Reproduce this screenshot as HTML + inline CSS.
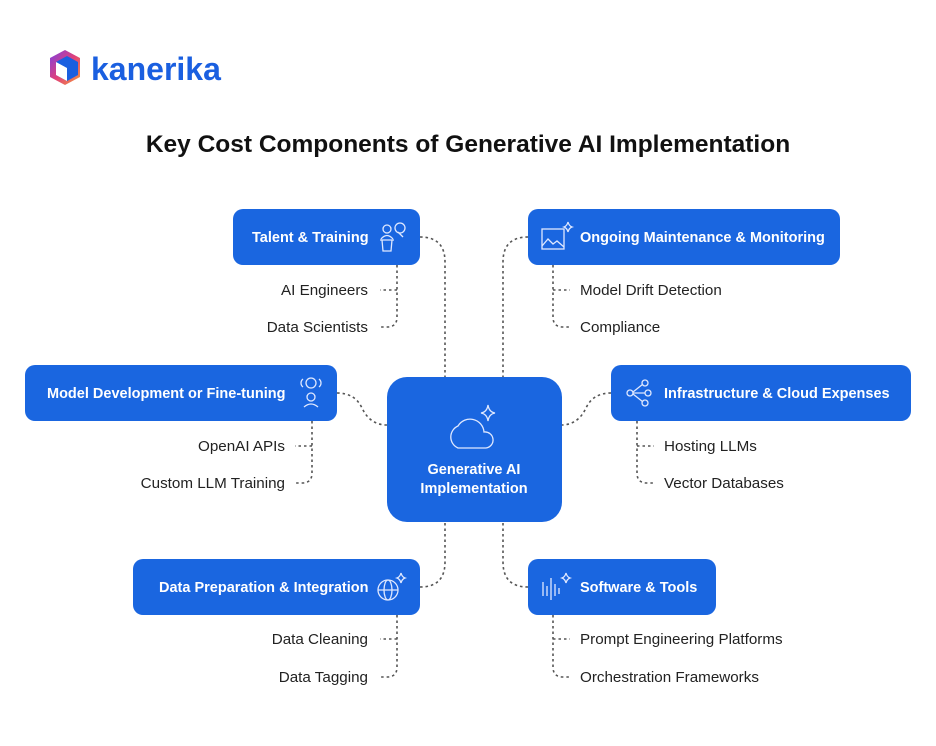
<!DOCTYPE html>
<html><head><meta charset="utf-8"><style>
body{margin:0;background:#fff;}
svg text{font-family:"Liberation Sans",sans-serif;}
</style></head><body>
<svg width="936" height="741" viewBox="0 0 936 741" xmlns="http://www.w3.org/2000/svg">
<defs><linearGradient id="lg" x1="0" y1="0" x2="1" y2="1"><stop offset="0" stop-color="#7b3fe4"/><stop offset="0.5" stop-color="#e0407a"/><stop offset="1" stop-color="#f59a3a"/></linearGradient></defs>
<rect width="936" height="741" fill="#fff"/>
<polygon points="65,50 80,58 80,77 65,85 50,77 50,58" fill="url(#lg)"/>
<polygon points="67,56 78,62 78,75 67,81 56,75 56,62" fill="#1a5fe0"/>
<polygon points="56,62 67,68 67,81 56,75" fill="#fff"/>
<text x="91" y="80" font-size="32" font-weight="bold" fill="#1a5fe0">kanerika</text>
<text x="468" y="152" font-size="24.5" font-weight="bold" fill="#111" text-anchor="middle">Key Cost Components of Generative AI Implementation</text>

<g fill="none" stroke="#555" stroke-width="1.6" stroke-dasharray="2.5 3">
<path d="M420,237 Q445,237 445,262 L445,378"/>
<path d="M528,237 Q503,237 503,262 L503,378"/>
<path d="M337,393 Q355,393 362,408 Q370,425 387,425"/>
<path d="M611,393 Q593,393 586,408 Q578,425 561,425"/>
<path d="M420,587 Q445,587 445,562 L445,522"/>
<path d="M528,587 Q503,587 503,562 L503,522"/>
<path d="M397,265 L397,317 Q397,327 387,327 L380,327 M397,290 L380,290"/>
<path d="M553,265 L553,317 Q553,327 563,327 L570,327 M553,290 L570,290"/>
<path d="M312,421 L312,473 Q312,483 302,483 L295,483 M312,446 L295,446"/>
<path d="M637,421 L637,473 Q637,483 647,483 L654,483 M637,446 L654,446"/>
<path d="M397,615 L397,667 Q397,677 387,677 L380,677 M397,639 L380,639"/>
<path d="M553,615 L553,667 Q553,677 563,677 L570,677 M553,639 L570,639"/>
</g>

<g fill="#1a66e0">
<rect x="233" y="209" width="187" height="56" rx="10"/>
<rect x="528" y="209" width="312" height="56" rx="10"/>
<rect x="25" y="365" width="312" height="56" rx="10"/>
<rect x="611" y="365" width="300" height="56" rx="10"/>
<rect x="387" y="377" width="175" height="145" rx="20"/>
<rect x="133" y="559" width="287" height="56" rx="10"/>
<rect x="528" y="559" width="188" height="56" rx="10"/>
</g>

<g fill="#fff" font-size="14.5" font-weight="bold">
<text x="252" y="242">Talent &amp; Training</text>
<text x="580" y="242">Ongoing Maintenance &amp; Monitoring</text>
<text x="47" y="398">Model Development or Fine-tuning</text>
<text x="664" y="398">Infrastructure &amp; Cloud Expenses</text>
<text x="159" y="592">Data Preparation &amp; Integration</text>
<text x="580" y="592">Software &amp; Tools</text>
<text x="474" y="474" text-anchor="middle">Generative AI</text>
<text x="474" y="493" text-anchor="middle">Implementation</text>
</g>

<g fill="none" stroke="#dfe8ff" stroke-width="1.3">
<circle cx="387" cy="229" r="4"/><path d="M381,239 Q387,232 393,239"/><path d="M380,240 h14 M382,240 l1,11 h8 l1,-11"/><circle cx="400" cy="228" r="5"/><path d="M398,232 l5,5"/>
<rect x="542" y="229" width="22" height="20"/><path d="M542,246 l6,-7 5,5 4,-3 7,6"/><path d="M568,222 q1,4 4,5 q-3,1 -4,5 q-1,-4 -4,-5 q3,-1 4,-5z"/>
<circle cx="311" cy="383" r="5"/><path d="M303,379 a5,5 0 0 0 0,8 M319,379 a5,5 0 0 1 0,8"/><circle cx="311" cy="397" r="4"/><path d="M304,407 q7,-6 14,0"/>
<circle cx="630" cy="393" r="3"/><circle cx="645" cy="383" r="3"/><circle cx="648" cy="393" r="3"/><circle cx="645" cy="403" r="3"/><path d="M633,393 h12 M633,392 l10,-8 M633,394 l10,8"/>
<path d="M458,448 a12,12 0 0 1 0,-22 a14,14 0 0 1 26,6 a8,8 0 0 1 2,16 z"/><path d="M488,405 q1,7 7,8 q-6,1 -7,8 q-1,-7 -7,-8 q6,-1 7,-8z"/>
<circle cx="388" cy="590" r="10"/><ellipse cx="388" cy="590" rx="4" ry="10"/><path d="M378,590 h20"/><path d="M401,573 q1,4 4,5 q-3,1 -4,5 q-1,-4 -4,-5 q3,-1 4,-5z"/>
<path d="M543,582 v14 M547,586 v10 M551,578 v22 M555,584 v12 M559,588 v6"/><path d="M566,573 q1,4 4,5 q-3,1 -4,5 q-1,-4 -4,-5 q3,-1 4,-5z"/>
</g>

<g fill="#222" font-size="15.2">
<text x="368" y="295" text-anchor="end">AI Engineers</text>
<text x="368" y="332" text-anchor="end">Data Scientists</text>
<text x="580" y="295">Model Drift Detection</text>
<text x="580" y="332">Compliance</text>
<text x="285" y="451" text-anchor="end">OpenAI APIs</text>
<text x="285" y="488" text-anchor="end">Custom LLM Training</text>
<text x="664" y="451">Hosting LLMs</text>
<text x="664" y="488">Vector Databases</text>
<text x="368" y="644" text-anchor="end">Data Cleaning</text>
<text x="368" y="682" text-anchor="end">Data Tagging</text>
<text x="580" y="644">Prompt Engineering Platforms</text>
<text x="580" y="682">Orchestration Frameworks</text>
</g>
</svg>
</body></html>
